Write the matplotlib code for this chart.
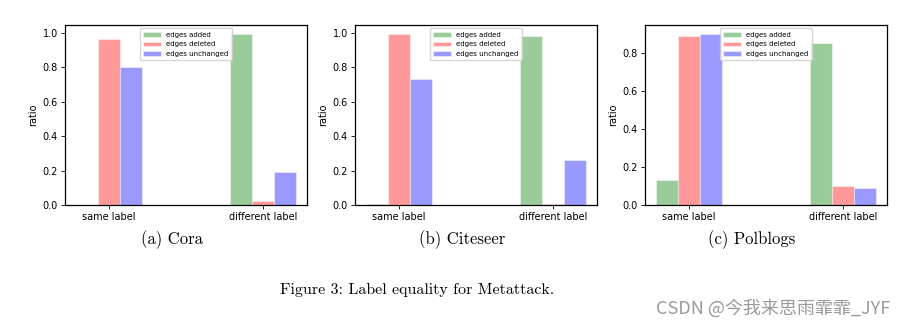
import matplotlib
matplotlib.use("Agg")
import matplotlib.pyplot as plt
import numpy as np

categories = ["same label", "different label"]
series_names = ["edges added", "edges deleted", "edges unchanged"]
series_colors = ["g", "r", "b"]
datasets = ["Cora", "Citeseer", "Polblogs"]
captions = ["(a) Cora", "(b) Citeseer", "(c) Polblogs"]

cora_added = [0.0, 0.997]
cora_deleted = [0.965, 0.025]
cora_unchanged = [0.800, 0.193]

citeseer_added = [0.008, 0.984]
citeseer_deleted = [0.996, 0.003]
citeseer_unchanged = [0.732, 0.259]

polblogs_added = [0.134, 0.856]
polblogs_deleted = [0.892, 0.100]
polblogs_unchanged = [0.904, 0.090]

all_data = [
    [cora_added, cora_deleted, cora_unchanged],
    [citeseer_added, citeseer_deleted, citeseer_unchanged],
    [polblogs_added, polblogs_deleted, polblogs_unchanged],
]

fig = plt.figure(figsize=(9.07, 3.27), dpi=100)
W, H = 907, 327
lefts = [65, 355, 645]
ax_w = 242
top, bottom = 25, 205

x = np.arange(len(categories))
width = 0.142

for i, (left, data) in enumerate(zip(lefts, all_data)):
    ax = fig.add_axes([left / W, 1 - bottom / H, ax_w / W, (bottom - top) / H])
    for j, (vals, name, col) in enumerate(zip(data, series_names, series_colors)):
        ax.bar(x + (j - 1) * width, vals, width, color=col, alpha=0.4,
               edgecolor="white", linewidth=0.8, label=name)
    ax.set_xticks(x)
    ax.set_xticklabels(categories, fontsize=7)
    ax.tick_params(axis="y", labelsize=7, length=3, width=0.6, pad=2)
    ax.tick_params(axis="x", length=3, width=0.6, pad=2)
    ax.set_ylabel("ratio", fontsize=7, labelpad=3)
    for s in ax.spines.values():
        s.set_linewidth(0.9)
    ax.legend(loc="upper center", fontsize=5, handlelength=2.5, borderpad=0.5,
              labelspacing=0.5, framealpha=0.8)
    cx = (left + ax_w / 2 - 14) / W
    fig.text(cx, 1 - 240 / H, captions[i], family="cmr10",
             ha="center", va="center", fontsize=12)

fig.text(417 / W, 1 - 290 / H, "Figure 3: Label equality for Metattack.", family="cmr10",
         ha="center", va="center", fontsize=11.5)
fig.text(890 / W, 1 - 308 / H, "CSDN @今我来思雨霏霏_JYF", ha="right", va="center",
         fontsize=13, color="#9a9a9a", family=["Noto Sans CJK SC", "DejaVu Sans"])

fig.savefig("out.png", dpi=100)
